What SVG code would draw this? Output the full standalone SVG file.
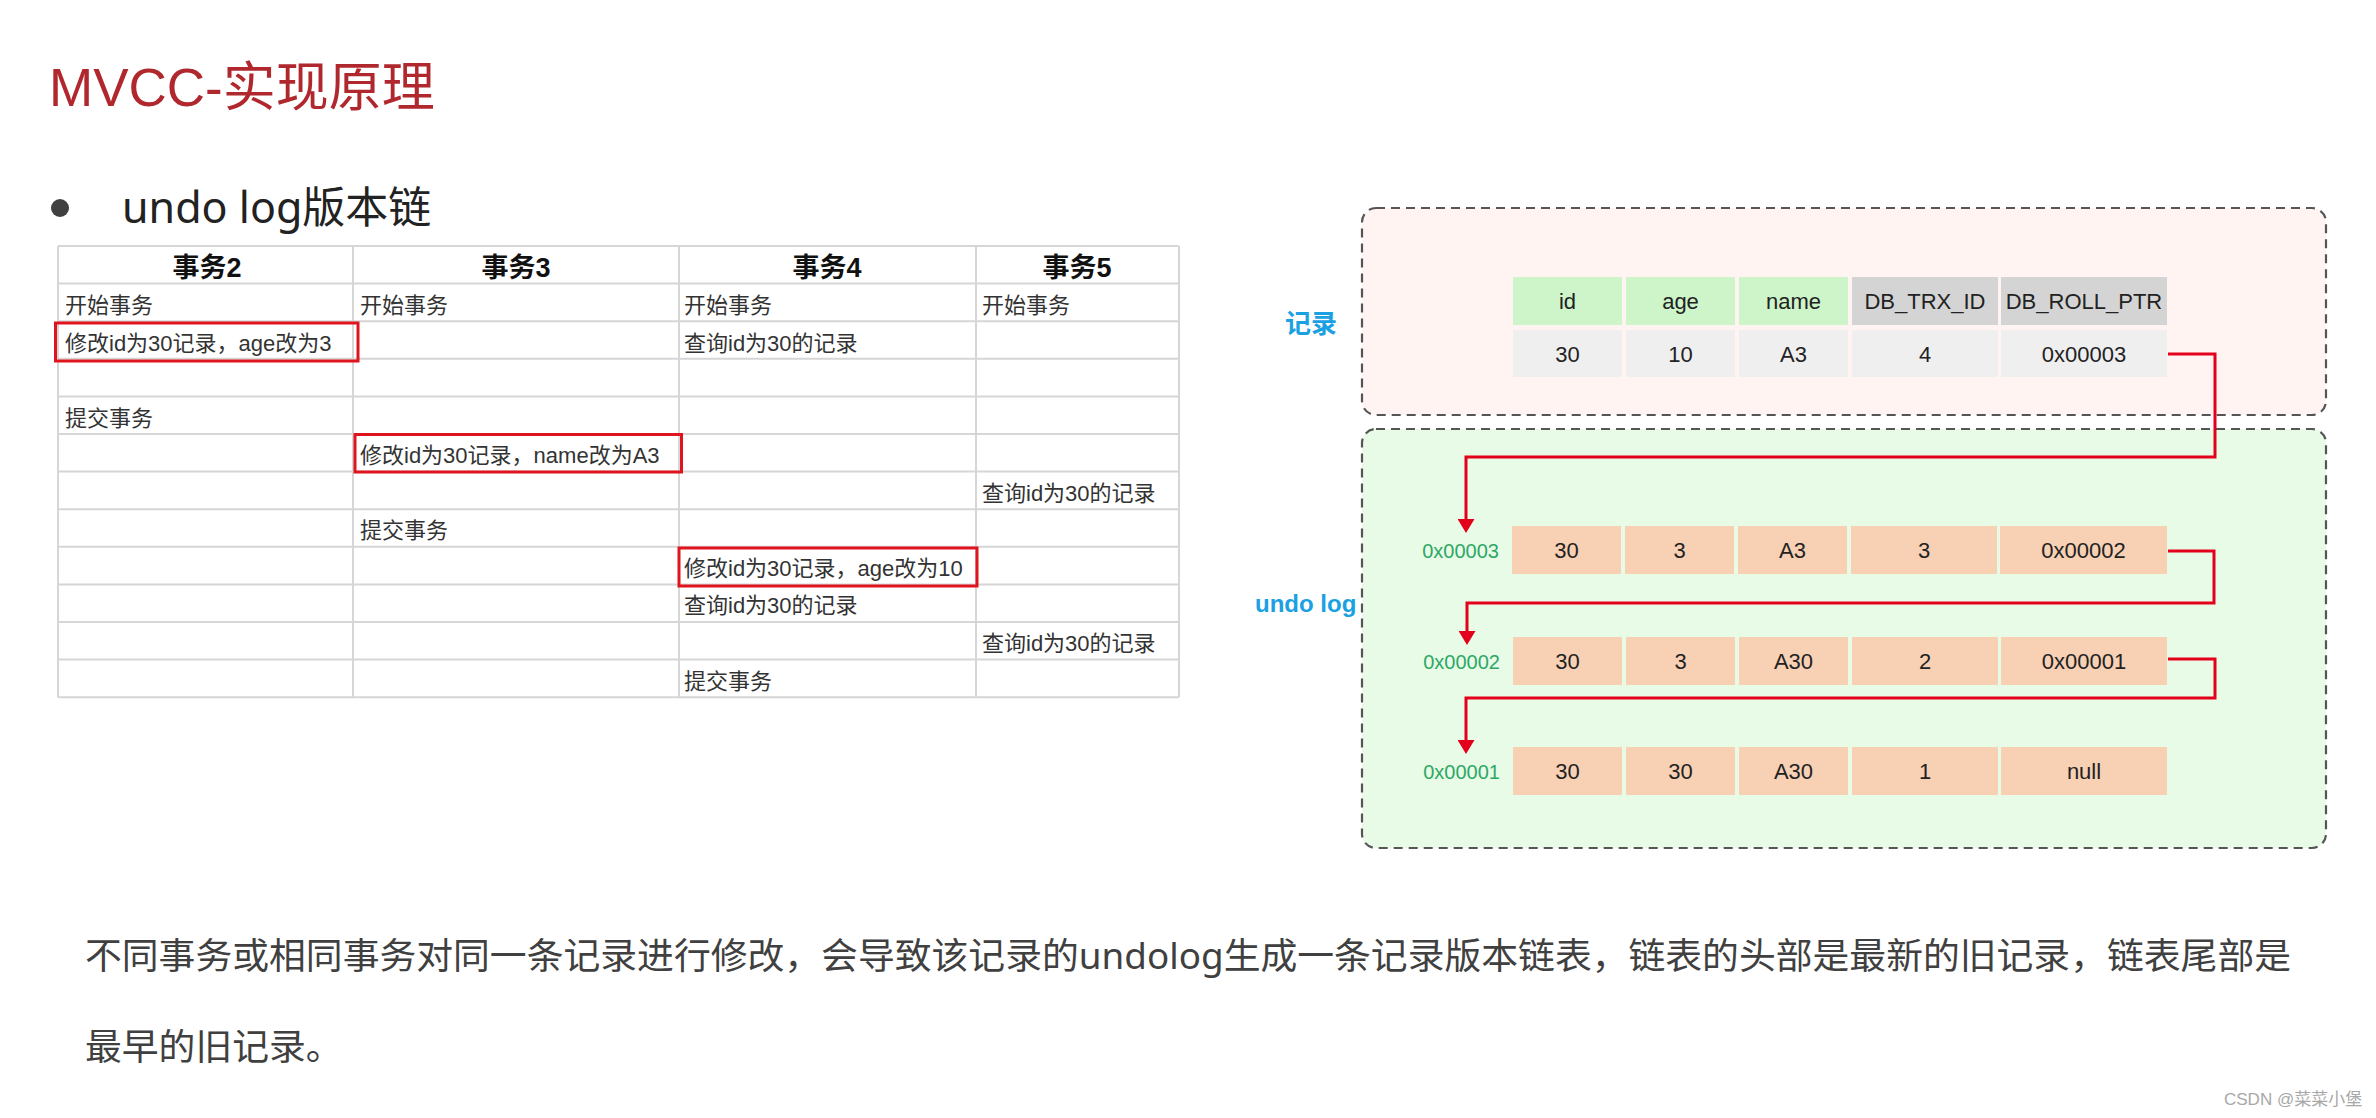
<svg xmlns="http://www.w3.org/2000/svg" width="2376" height="1118" viewBox="0 0 2376 1118">
<defs>
<style>
.title{font-family:"Liberation Sans","Noto Sans CJK SC",sans-serif;font-size:53px;fill:#b0282e}
.sub{font-family:"Noto Sans","Noto Sans CJK SC",sans-serif;font-size:43px;fill:#222}
.th{font-family:"Liberation Sans","Noto Sans CJK SC",sans-serif;font-size:27px;font-weight:bold;fill:#111;text-anchor:middle}
.td{font-family:"Liberation Sans","Noto Sans CJK SC",sans-serif;font-size:22px;fill:#333}
.grid{stroke:#d6d6d6;stroke-width:2;fill:none}
.hl{fill:none;stroke:#e0141e;stroke-width:3}
.box{stroke:#555;stroke-width:2.2;stroke-dasharray:9 6}
.cell{font-family:"Liberation Sans",sans-serif;font-size:22px;fill:#222;text-anchor:middle}
.addr{font-family:"Liberation Sans",sans-serif;font-size:20px;fill:#2ea866;text-anchor:end}
.lbl{font-family:"Liberation Sans","Noto Sans CJK SC",sans-serif;font-weight:bold;fill:#1ba1e2}
.hg{fill:#cdf5c9}
.hx{fill:#d4d4d4}
.dg{fill:#efefef}
.pe{fill:#f8d0b4}
.conn{fill:none;stroke:#e3001b;stroke-width:3}
.para{font-family:"Noto Sans","Noto Sans CJK SC",sans-serif;font-size:36.8px;fill:#404040}
.wm{font-family:"Liberation Sans","Noto Sans CJK SC",sans-serif;font-size:17px;fill:#a8a8a8}
</style>
<marker id="arr" markerUnits="userSpaceOnUse" markerWidth="15" markerHeight="17" refX="0" refY="8.5" orient="auto" viewBox="0 0 15 17">
<path d="M0,0 L14,8.5 L0,17 z" fill="#e3001b"/>
</marker>
</defs>
<rect x="0" y="0" width="2376" height="1118" fill="#ffffff"/>

<g id="title"><text class="title" x="49" y="106">MVCC-实现原理</text></g>

<g id="heading">
<circle cx="60" cy="208" r="9" fill="#404040"/>
<text class="sub" x="122" y="223">undo log版本链</text>
</g>

<g id="transaction-table">
<g class="grid">
<line x1="58" y1="246" x2="1179" y2="246"/>
<line x1="58" y1="283.6" x2="1179" y2="283.6"/>
<line x1="58" y1="321.2" x2="1179" y2="321.2"/>
<line x1="58" y1="358.8" x2="1179" y2="358.8"/>
<line x1="58" y1="396.4" x2="1179" y2="396.4"/>
<line x1="58" y1="434" x2="1179" y2="434"/>
<line x1="58" y1="471.6" x2="1179" y2="471.6"/>
<line x1="58" y1="509.2" x2="1179" y2="509.2"/>
<line x1="58" y1="546.8" x2="1179" y2="546.8"/>
<line x1="58" y1="584.4" x2="1179" y2="584.4"/>
<line x1="58" y1="622" x2="1179" y2="622"/>
<line x1="58" y1="659.6" x2="1179" y2="659.6"/>
<line x1="58" y1="697.2" x2="1179" y2="697.2"/>
<line x1="58" y1="246" x2="58" y2="697.2"/>
<line x1="353" y1="246" x2="353" y2="697.2"/>
<line x1="679" y1="246" x2="679" y2="697.2"/>
<line x1="976" y1="246" x2="976" y2="697.2"/>
<line x1="1179" y1="246" x2="1179" y2="697.2"/>
</g>
<text class="th" x="207" y="277">事务2</text>
<text class="th" x="516" y="277">事务3</text>
<text class="th" x="827" y="277">事务4</text>
<text class="th" x="1077" y="277">事务5</text>

<text class="td" x="65" y="313">开始事务</text>
<text class="td" x="360" y="313">开始事务</text>
<text class="td" x="684" y="313">开始事务</text>
<text class="td" x="982" y="313">开始事务</text>

<text class="td" x="65" y="351">修改id为30记录，age改为3</text>
<text class="td" x="684" y="351">查询id为30的记录</text>

<text class="td" x="65" y="426">提交事务</text>
<text class="td" x="360" y="463">修改id为30记录，name改为A3</text>
<text class="td" x="982" y="501">查询id为30的记录</text>
<text class="td" x="360" y="538">提交事务</text>
<text class="td" x="684" y="576">修改id为30记录，age改为10</text>
<text class="td" x="684" y="613">查询id为30的记录</text>
<text class="td" x="982" y="651">查询id为30的记录</text>
<text class="td" x="684" y="689">提交事务</text>

<rect class="hl" x="55.5" y="323" width="302.5" height="38"/>
<rect class="hl" x="355" y="434.5" width="326.5" height="37.5"/>
<rect class="hl" x="679" y="548" width="298" height="38"/>
</g>

<g id="record-area">
<rect class="box" x="1362" y="208" width="964" height="207" rx="14" fill="#fff4f2"/>
<text class="lbl" x="1285" y="333" font-size="26">记录</text>
</g>

<g id="undo-area">
<rect class="box" x="1362" y="429" width="964" height="419" rx="14" fill="#e8fbe6"/>
<text class="lbl" x="1255" y="612" font-size="24">undo log</text>
</g>

<g id="record-row">
<rect class="hg" x="1513" y="277" width="109" height="48"/>
<rect class="hg" x="1626" y="277" width="109" height="48"/>
<rect class="hg" x="1739" y="277" width="109" height="48"/>
<rect class="hx" x="1852" y="277" width="146" height="48"/>
<rect class="hx" x="2001" y="277" width="166" height="48"/>
<text class="cell" x="1567.5" y="309">id</text>
<text class="cell" x="1680.5" y="309">age</text>
<text class="cell" x="1793.5" y="309">name</text>
<text class="cell" x="1925" y="309">DB_TRX_ID</text>
<text class="cell" x="2084" y="309">DB_ROLL_PTR</text>
<rect class="dg" x="1513" y="330" width="109" height="47"/>
<rect class="dg" x="1626" y="330" width="109" height="47"/>
<rect class="dg" x="1739" y="330" width="109" height="47"/>
<rect class="dg" x="1852" y="330" width="146" height="47"/>
<rect class="dg" x="2001" y="330" width="166" height="47"/>
<text class="cell" x="1567.5" y="362">30</text>
<text class="cell" x="1680.5" y="362">10</text>
<text class="cell" x="1793.5" y="362">A3</text>
<text class="cell" x="1925" y="362">4</text>
<text class="cell" x="2084" y="362">0x00003</text>
</g>

<g id="undo-0x00003">
<text class="addr" x="1499" y="558">0x00003</text>
<rect class="pe" x="1512" y="526" width="109" height="48"/>
<rect class="pe" x="1625" y="526" width="109" height="48"/>
<rect class="pe" x="1738" y="526" width="109" height="48"/>
<rect class="pe" x="1851" y="526" width="146" height="48"/>
<rect class="pe" x="2000" y="526" width="167" height="48"/>
<text class="cell" x="1566.5" y="558">30</text>
<text class="cell" x="1679.5" y="558">3</text>
<text class="cell" x="1792.5" y="558">A3</text>
<text class="cell" x="1924" y="558">3</text>
<text class="cell" x="2083.5" y="558">0x00002</text>
</g>

<g id="undo-0x00002">
<text class="addr" x="1500" y="669">0x00002</text>
<rect class="pe" x="1513" y="637" width="109" height="48"/>
<rect class="pe" x="1626" y="637" width="109" height="48"/>
<rect class="pe" x="1739" y="637" width="109" height="48"/>
<rect class="pe" x="1852" y="637" width="146" height="48"/>
<rect class="pe" x="2001" y="637" width="166" height="48"/>
<text class="cell" x="1567.5" y="669">30</text>
<text class="cell" x="1680.5" y="669">3</text>
<text class="cell" x="1793.5" y="669">A30</text>
<text class="cell" x="1925" y="669">2</text>
<text class="cell" x="2084" y="669">0x00001</text>
</g>

<g id="undo-0x00001">
<text class="addr" x="1500" y="779">0x00001</text>
<rect class="pe" x="1513" y="747" width="109" height="48"/>
<rect class="pe" x="1626" y="747" width="109" height="48"/>
<rect class="pe" x="1739" y="747" width="109" height="48"/>
<rect class="pe" x="1852" y="747" width="146" height="48"/>
<rect class="pe" x="2001" y="747" width="166" height="48"/>
<text class="cell" x="1567.5" y="779">30</text>
<text class="cell" x="1680.5" y="779">30</text>
<text class="cell" x="1793.5" y="779">A30</text>
<text class="cell" x="1925" y="779">1</text>
<text class="cell" x="2084" y="779">null</text>
</g>

<g id="connectors">
<path class="conn" d="M2168,354 H2215 V457 H1466 V519" marker-end="url(#arr)"/>
<path class="conn" d="M2168,551 H2214 V603 H1467 V631" marker-end="url(#arr)"/>
<path class="conn" d="M2168,659 H2215 V698 H1466 V740" marker-end="url(#arr)"/>
</g>

<g id="description">
<text class="para" x="85" y="969" textLength="2206" lengthAdjust="spacing">不同事务或相同事务对同一条记录进行修改，会导致该记录的undolog生成一条记录版本链表，链表的头部是最新的旧记录，链表尾部是</text>
<text class="para" x="85" y="1060">最早的旧记录。</text>
</g>

<g id="watermark"><text class="wm" x="2224" y="1105">CSDN @菜菜小堡</text></g>
</svg>
